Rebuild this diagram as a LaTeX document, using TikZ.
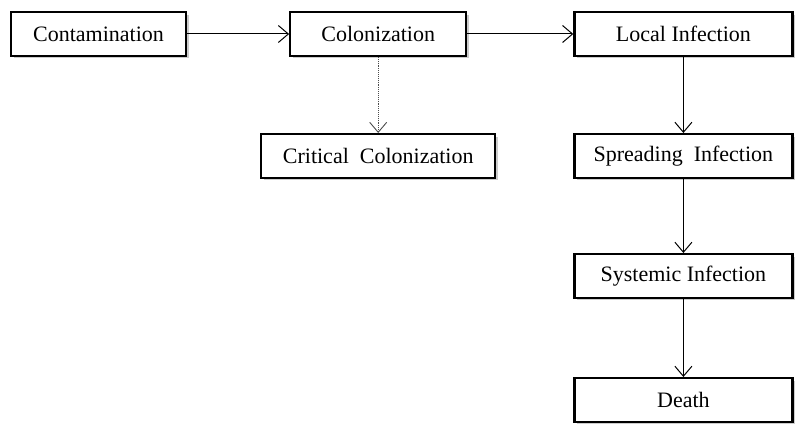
\documentclass[tikz,border=0pt]{standalone}
\usepackage{fontspec}
\setmainfont{Liberation Serif}
\usetikzlibrary{arrows.meta, positioning, shadows}
\tikzset{
  stagebox/.style={draw, line width=2.2pt, fill=white, minimum height=43.8pt, inner sep=2pt,
    font=\fontsize{22}{26}\selectfont, drop shadow={shadow xshift=2.5pt, shadow yshift=-2.5pt, fill=black!40}},
  flowarr/.style={-{Straight Barb[length=10pt, width=17pt]}, line width=1pt},
  dotarr/.style={-{Straight Barb[length=10pt, width=17pt]}, line width=0.9pt, black!70, densely dotted},
}
\begin{document}
\begin{tikzpicture}[node distance=76pt]
  \useasboundingbox (0,0) rectangle (798pt,-427pt);
  \node[stagebox, minimum width=175pt] (cont) at (98.5pt,-34pt) {Contamination};
  \node[stagebox, minimum width=176pt, right=102pt of cont] (colon) {Colonization};
  \node[stagebox, minimum width=218pt, right=106pt of colon] (local) {Local Infection};
  \node[stagebox, minimum width=234pt, below=of colon] (crit) {Critical~ Colonization};
  \node[stagebox, minimum width=218pt, below=of local] (spread) {Spreading~ Infection};
  \node[stagebox, minimum width=218pt, below=74pt of spread] (syst) {Systemic Infection};
  \node[stagebox, minimum width=218pt, below=78pt of syst] (death) {Death};
  \draw[flowarr] (cont) -- (colon);
  \draw[flowarr] (colon) -- (local);
  \draw[dotarr] (colon) -- (crit);
  \draw[flowarr] (local) -- (spread);
  \draw[flowarr] (spread) -- (syst);
  \draw[flowarr] (syst) -- (death);
\end{tikzpicture}
\end{document}
